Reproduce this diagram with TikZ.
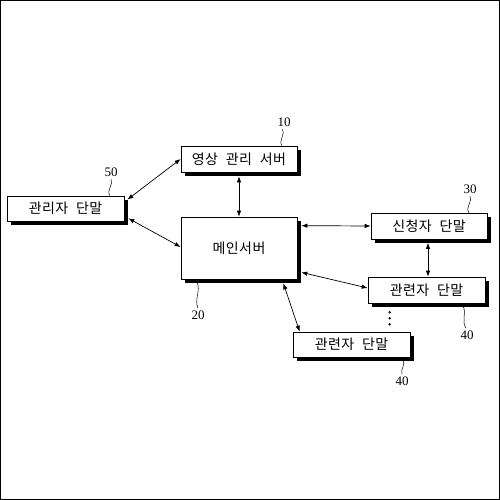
\documentclass[tikz,border=0pt]{standalone}
\usepackage{fontspec}
\setmainfont{Liberation Serif}
\newfontfamily\kr[LetterSpace=3,WordSpace=2.2]{Noto Sans CJK KR}
\usetikzlibrary{shadows,arrows.meta,calc}
\tikzset{
  box/.style={draw, line width=0.7pt, fill=white, inner sep=0pt,
    font=\kr\fontsize{14}{14}\selectfont,
    drop shadow={shadow xshift=3.5pt, shadow yshift=-3.5pt, fill=black, opacity=1}},
  link/.style={line width=0.7pt, {Latex[length=6pt,width=4.5pt]}-{Latex[length=6pt,width=4.5pt]}},
  num/.style={font=\fontsize{13}{13}\selectfont, inner sep=0pt},
  wave/.style={line width=0.5pt}
}
\begin{document}
\begin{tikzpicture}[x=1pt,y=-1pt]
\useasboundingbox (0,0) rectangle (500,500);
\draw[line width=1pt] (0.5,0.5) rectangle (499.5,499.5);

\node[box, minimum width=116pt, minimum height=26pt] (vms) at (239,159) {영상 관리 서버};
\node[box, minimum width=117pt, minimum height=25pt] (adm) at (65.5,208.5) {관리자 단말};
\node[box, minimum width=116pt, minimum height=62pt] (main) at (239,248) {메인서버};
\node[box, minimum width=116pt, minimum height=26pt] (app) at (429,226) {신청자 단말};
\node[box, minimum width=117pt, minimum height=26pt] (rel1) at (426.5,290) {관련자 단말};
\node[box, minimum width=117pt, minimum height=25pt] (rel2) at (351.5,344.5) {관련자 단말};

% connectors
\draw[link] ($(adm.north east)+(3,4)$) -- (vms.west);
\draw[link] ($(adm.south east)+(4,-3)$) -- ($(main.west)+(0,-1)$);
\draw[link] ($(vms.south)+(0,4)$) -- (main.north);
\draw[link] ($(main.north east)+(4,9)$) -- (app.west);
\draw[link] ($(app.south)+(-1,3.5)$) -- ($(rel1.north)+(1.5,0)$);
\draw[link] ($(main.south east)+(4,-7)$) -- ($(rel1.west)+(0,-2)$);
\draw[link] ($(main.south east)+(-14,4)$) -- ($(rel2.north west)+(7,0)$);

% dots
\fill ($(rel1.south west)+(22,9)$) circle (1.3);
\fill ($(rel1.south west)+(22,15)$) circle (1.3);
\fill ($(rel1.south west)+(22,21)$) circle (1.3);

% reference numerals
\node[num] (n10) at (284,122) {10};
\node[num] (n50) at (111,172) {50};
\node[num] (n30) at (470,189) {30};
\node[num] (n20) at (198,315) {20};
\node[num] (n40a) at (467,335) {40};
\node[num] (n40b) at (402,381) {40};

\draw[wave] (282,146) .. controls (278,140) and (286,135) .. (282,129);
\draw[wave] (110,196) .. controls (106,190) and (114,184) .. (111,179);
\draw[wave] (469,213) .. controls (465,207) and (473,201) .. (470,196);
\draw[wave] (197,282) .. controls (201,290) and (194,300) .. (198,308);
\draw[wave] (463,306) .. controls (467,313) and (461,321) .. (466,328);
\draw[wave] (403,360) .. controls (406,365) and (400,369) .. (402,374);
\end{tikzpicture}
\end{document}
